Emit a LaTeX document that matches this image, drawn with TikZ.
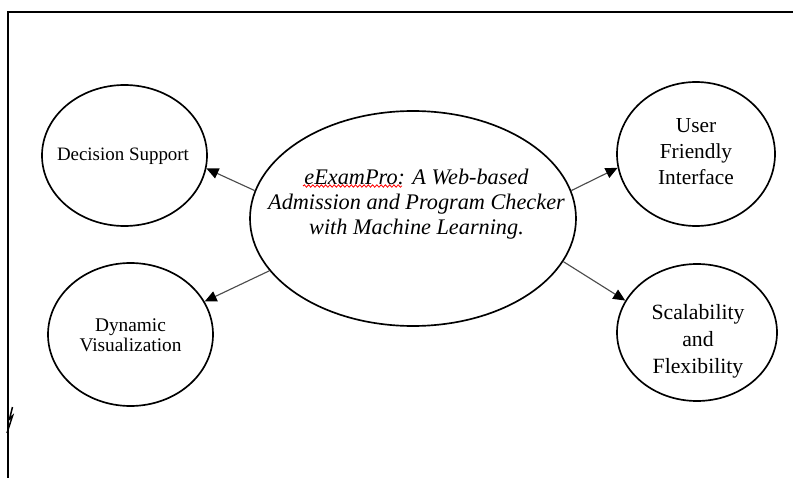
\documentclass[tikz,border=0pt]{standalone}
\usepackage{fontspec}
\setmainfont{Liberation Serif}
\usetikzlibrary{arrows.meta,shapes.geometric,decorations.pathmorphing}
\begin{document}
\begin{tikzpicture}[x=0.75pt,y=-0.75pt,
  bubble/.style={draw=black,line width=1.25pt,ellipse,inner sep=0pt},
  caption/.style={align=center,inner sep=0pt},
  link/.style={draw=black!70,line width=0.85pt,
    -{Triangle[length=9pt,width=8pt,color=black,fill=black]}},
  frame/.style={line width=1.6pt}]
\useasboundingbox (0,0) rectangle (793,478);

% page frame (top and left rules) with the small break mark
\draw[frame] (8,478) -- (8,12) -- (793,12);
\draw[line width=1.1pt] (12.5,407) -- (9.5,419) -- (12.5,416) -- (7,433);

% ellipses
\node[bubble,minimum width=123.75pt,minimum height=105.75pt] (ds) at (124.5,155.5) {};
\node[bubble,minimum width=123.75pt,minimum height=107.25pt] (dv) at (130.5,334.5) {};
\node[bubble,minimum width=244.5pt,minimum height=161.25pt] (c) at (413,218.5) {};
\node[bubble,minimum width=118.5pt,minimum height=108pt] (ufi) at (696,154) {};
\node[bubble,minimum width=120pt,minimum height=102.75pt] (sf) at (697,332.5) {};

% texts
\node[caption,font=\fontsize{14.2pt}{16pt}\selectfont] (ds-t) at (123,156) {Decision Support};
\node[caption,font=\fontsize{14.5pt}{15pt}\selectfont] (dv-t) at (130.5,335) {Dynamic\\Visualization};
\node[caption,font=\fontsize{16.7pt}{18.75pt}\selectfont\itshape] (c-t) at (416.5,204.5)
  {eExamPro: A Web-based\\Admission and Program Checker\\with Machine Learning.};
\node[caption,font=\fontsize{16pt}{19.5pt}\selectfont] (ufi-t) at (696,151.5) {User\\Friendly\\Interface};
\node[caption,font=\fontsize{16.3pt}{20.25pt}\selectfont] (sf-t) at (698,341.5) {Scalability\\and\\Flexibility};

% spelling underline
\draw[red,line width=0.6pt,decorate,decoration={snake,amplitude=0.9pt,segment length=3.2pt}]
  (303,186) -- (402,186);

% connectors
\draw[link] (c.170) -- (ds.-9);
\draw[link] (c.10) -- (ufi.-170);
\draw[link] (c.200) -- (dv.24);
\draw[link] (c.-16) -- (sf.156);
\end{tikzpicture}
\end{document}
